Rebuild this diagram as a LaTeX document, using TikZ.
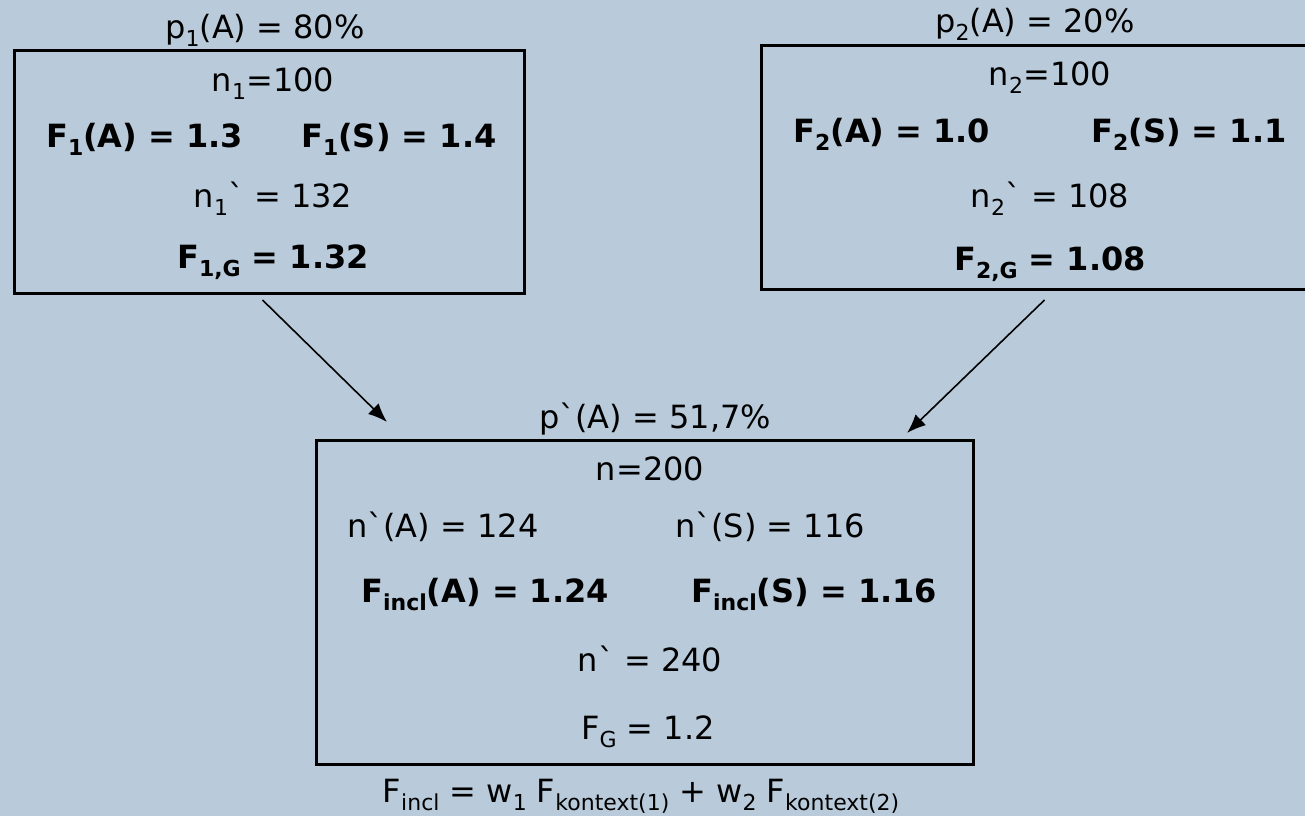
\documentclass[tikz,border=0pt]{standalone}
\usepackage{fontspec}
\setmainfont{DejaVu Sans}
\usepackage{xcolor}
\usepackage{tikz}
\usetikzlibrary{arrows.meta, positioning}

\definecolor{bgblue}{RGB}{185,203,219}
\newcommand{\sbs}[1]{\raisebox{-0.25em}{\fontsize{22}{22}\selectfont #1}}
\newcommand{\grv}{\textasciigrave}

\begin{document}
\begin{tikzpicture}[x=1pt, y=-1pt, >={Latex[length=19pt, width=15pt]},
    every node/.style={font=\fontsize{32}{38}\selectfont, inner sep=0pt},
    frame/.style={rectangle, draw=black, line width=3pt, anchor=north west},
    val/.style={anchor=base},
    valw/.style={anchor=base west},
    fac/.style={anchor=base, font=\fontsize{32}{38}\selectfont\bfseries},
    facw/.style={anchor=base west, font=\fontsize{32}{38}\selectfont\bfseries},
    flow/.style={->, line width=1.6pt},
]
% Canvas
\fill[bgblue] (0,0) rectangle (1305,816);
\useasboundingbox (0,0) rectangle (1305,816);

% Frames
\node[frame, minimum width=510pt, minimum height=243pt] (box1) at (13,49) {};
\node[frame, minimum width=550pt, minimum height=244pt] (box2) at (760,44) {};
\node[frame, minimum width=657pt, minimum height=324pt] (box3) at (315,439) {};

% Context 1
\node[val] (p1) at (265,38) {p\sbs{1}(A) = 80\%};
\node[val] (n1) at (273,91) {n\sbs{1}=100};
\node[facw] (f1a) at (46,147) {F\sbs{1}(A) = 1.3};
\node[facw] (f1s) at (301,147) {F\sbs{1}(S) = 1.4};
\node[val] (m1) at (273,207) {n\sbs{1}\grv{} = 132};
\node[fac] (g1) at (273,268) {F\sbs{1,G} = 1.32};

% Context 2
\node[val] (p2) at (1035,33) {p\sbs{2}(A) = 20\%};
\node[val] (n2) at (1050,85) {n\sbs{2}=100};
\node[facw] (f2a) at (793,142) {F\sbs{2}(A) = 1.0};
\node[facw] (f2s) at (1091,142) {F\sbs{2}(S) = 1.1};
\node[val] (m2) at (1050,207) {n\sbs{2}\grv{} = 108};
\node[fac] (g2) at (1050,270) {F\sbs{2,G} = 1.08};

% Combined
\node[val] (p3) at (655,428) {p\grv(A) = 51,7\%};
\node[val] (n3) at (650,480) {n=200};
\node[valw] (na) at (347,537) {n\grv(A) = 124};
\node[valw] (ns) at (675,537) {n\grv(S) = 116};
\node[facw] (fa) at (361,602) {F\sbs{incl}(A) = 1.24};
\node[facw] (fs) at (691,602) {F\sbs{incl}(S) = 1.16};
\node[val] (m3) at (650,671) {n\grv{} = 240};
\node[val] (g3) at (648,739) {F\sbs{G} = 1.2};
\node[val] (rule) at (641,802) {F\sbs{incl} = w\sbs{1} F\sbs{kontext(1)} + w\sbs{2} F\sbs{kontext(2)}};

% Arrows
\coordinate (tip1) at (387,422);
\coordinate (tip2) at (907,433);
\draw[flow] ([xshift=-7pt, yshift=-5pt]box1.south) -- (tip1);
\draw[flow] ([xshift=8pt, yshift=-9pt]box2.south) -- (tip2);

\end{tikzpicture}
\end{document}
